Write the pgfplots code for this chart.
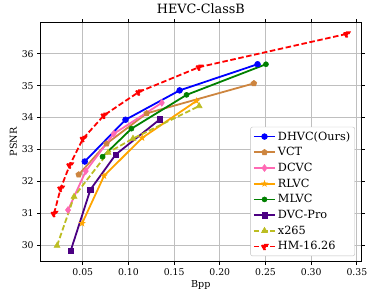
\documentclass[border=0pt]{standalone}
\usepackage{fontspec}
\setmainfont{DejaVu Serif}
\usepackage{pgfplots}
\pgfplotsset{compat=1.18}
\usetikzlibrary{plotmarks}
\pgfdeclareplotmark{fstar}{%
  \pgfpathmoveto{\pgfpointpolar{90}{1.3\pgfplotmarksize}}%
  \foreach \k in {1,...,9}{%
    \pgfmathsetmacro{\ang}{90+36*\k}%
    \ifodd\k
      \pgfpathlineto{\pgfpointpolar{\ang}{0.5\pgfplotmarksize}}%
    \else
      \pgfpathlineto{\pgfpointpolar{\ang}{1.3\pgfplotmarksize}}%
    \fi}%
  \pgfpathclose\pgfusepathqfillstroke}
\definecolor{cDHVC}{RGB}{0,0,255}
\definecolor{cVCT}{RGB}{205,133,63}
\definecolor{cDCVC}{RGB}{255,105,180}
\definecolor{cRLVC}{RGB}{255,165,0}
\definecolor{cMLVC}{RGB}{0,128,0}
\definecolor{cDVC}{RGB}{75,0,130}
\definecolor{cX}{RGB}{188,189,34}
\definecolor{cHM}{RGB}{255,0,0}
\begin{document}
\begin{tikzpicture}
\begin{axis}[
  scale only axis, width=320.3pt, height=238.6pt,
  xmin=0.004, xmax=0.3545, ymin=29.49, ymax=36.97,
  xtick={0.05,0.10,0.15,0.20,0.25,0.30,0.35},
  ytick={30,31,32,33,34,35,36},
  xticklabel style={/pgf/number format/.cd,fixed,fixed zerofill,precision=2},
  /pgf/number format/assume math mode=true,
  ticklabel style={font=\fontsize{9.3}{11}\selectfont},
  grid=major, grid style={line width=0.8pt, black!25},
  axis line style={black, line width=0.8pt},
  tick align=outside, major tick length=3.5pt,
  major tick style={black, line width=0.8pt},
  title={HEVC-ClassB},
  title style={font=\fontsize{12.8}{15}\selectfont, at={(0.5,1)}, anchor=south, yshift=0pt},
  xlabel={Bpp}, ylabel={PSNR},
  label style={font=\fontsize{9.6}{11}\selectfont},
  xlabel style={yshift=2pt},
  ylabel style={yshift=-2pt},
  legend cell align=left,
  legend style={at={(0.981,0.022)}, anchor=south east, draw=black!25, rounded corners=2pt,
    font=\fontsize{11.3}{13}\selectfont, row sep=1.8pt, inner sep=2.5pt},
  legend image code/.code={\draw[mark repeat=2,mark phase=2] plot coordinates {(0cm,0cm)(0.37cm,0cm)(0.74cm,0cm)};},
  every axis plot/.append style={line width=1.8pt, mark size=2.9pt, mark options={solid, line width=0.6pt}},
]
\addplot[cDHVC, mark=*] coordinates {(0.0522,32.62)(0.0968,33.93)(0.1560,34.85)(0.2413,35.67)};
\addlegendentry{DHVC(Ours)}
\addplot[cVCT, mark=pentagon*, mark size=3pt] coordinates {(0.0456,32.21)(0.076,33.18)(0.1200,34.13)(0.2373,35.07)};
\addlegendentry{VCT}
\addplot[cDCVC, mark=diamond*, mark size=3.4pt] coordinates {(0.0339,31.10)(0.0533,32.32)(0.0840,33.49)(0.1365,34.46)};
\addlegendentry{DCVC}
\addplot[cRLVC, mark=fstar, mark size=2.2pt] coordinates {(0.0493,30.68)(0.0733,32.17)(0.115,33.36)(0.1745,34.52)};
\addlegendentry{RLVC}
\addplot[cMLVC, mark=*, mark size=2.5pt] coordinates {(0.0716,32.77)(0.1033,33.65)(0.1636,34.71)(0.2505,35.67)};
\addlegendentry{MLVC}
\addplot[cDVC, mark=square*, mark size=2.7pt] coordinates {(0.0369,29.83)(0.0584,31.74)(0.0861,32.84)(0.1343,33.94)};
\addlegendentry{DVC-Pro}
\addplot[cX, dash pattern=on 5.5pt off 2.6pt, mark=triangle*, mark size=3.4pt] coordinates {(0.0219,29.98)(0.0405,31.52)(0.0777,32.90)(0.105,33.34)(0.1774,34.36)};
\addlegendentry{x265}
\addplot[cHM, dash pattern=on 5.5pt off 2.6pt, mark=triangle*, mark options={rotate=180}, mark size=3.4pt] coordinates {(0.0186,30.99)(0.0259,31.78)(0.0358,32.51)(0.0504,33.34)(0.0733,34.07)(0.1113,34.80)(0.1774,35.58)(0.3387,36.62)};
\addlegendentry{HM-16.26}
\end{axis}
\path[use as bounding box] (-40.7pt,-37.7pt) rectangle (333.3pt,259.3pt);
\end{tikzpicture}
\end{document}
